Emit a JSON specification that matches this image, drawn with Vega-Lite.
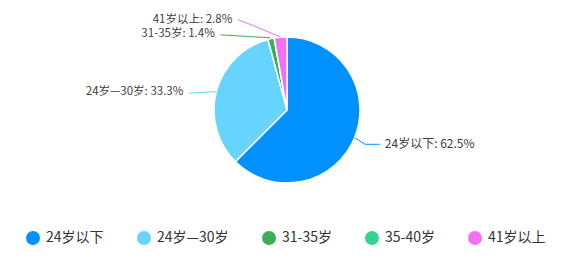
{
  "$schema": "https://vega.github.io/schema/vega-lite/v6.json",
  "width": 564,
  "height": 257,
  "padding": 0,
  "autosize": {"type": "none"},
  "background": "#ffffff",
  "config": {
    "view": {"stroke": null},
    "font": "Noto Sans CJK SC"
  },
  "datasets": {
    "slices": [
      {"idx": 1, "group": "24岁以下", "pct": 62.5},
      {"idx": 2, "group": "24岁—30岁", "pct": 33.3},
      {"idx": 3, "group": "31-35岁", "pct": 1.4},
      {"idx": 4, "group": "35-40岁", "pct": 0},
      {"idx": 5, "group": "41岁以上", "pct": 2.8}
    ],
    "leaders": [
      {"group": "24岁以下", "seq": 1, "lx": 0.93, "ly": -0.38},
      {"group": "24岁以下", "seq": 2, "lx": 1.07, "ly": -0.47},
      {"group": "24岁以下", "seq": 3, "lx": 1.27, "ly": -0.47},
      {"group": "24岁—30岁", "seq": 1, "lx": -0.97, "ly": 0.25},
      {"group": "24岁—30岁", "seq": 2, "lx": -1.01, "ly": 0.25},
      {"group": "24岁—30岁", "seq": 3, "lx": -1.34, "ly": 0.23},
      {"group": "31-35岁", "seq": 1, "lx": -0.23, "ly": 0.99},
      {"group": "31-35岁", "seq": 2, "lx": -0.5, "ly": 1.005},
      {"group": "31-35岁", "seq": 3, "lx": -0.91, "ly": 1.03},
      {"group": "41岁以上", "seq": 1, "lx": -0.09, "ly": 1.0},
      {"group": "41岁以上", "seq": 2, "lx": -0.47, "ly": 1.16},
      {"group": "41岁以上", "seq": 3, "lx": -0.67, "ly": 1.235}
    ],
    "labels": [
      {"group": "24岁以下", "side": "right", "tx": 1.34, "ty": -0.47, "label": "24岁以下: 62.5%"},
      {"group": "24岁—30岁", "side": "left", "tx": -1.42, "ty": 0.25, "label": "24岁—30岁: 33.3%"},
      {"group": "31-35岁", "side": "left", "tx": -0.99, "ty": 1.035, "label": "31-35岁: 1.4%"},
      {"group": "41岁以上", "side": "left", "tx": -0.75, "ty": 1.235, "label": "41岁以上: 2.8%"}
    ]
  },
  "layer": [
    {
      "data": {"name": "slices"},
      "mark": {"type": "arc", "outerRadius": 73, "stroke": "#ffffff", "strokeWidth": 1.5},
      "encoding": {
        "theta": {"field": "pct", "type": "quantitative", "stack": true},
        "order": {"field": "idx", "type": "quantitative"},
        "x": {"datum": 0, "type": "quantitative", "scale": {"domain": [-3.9315, 3.7945], "nice": false, "zero": false}, "axis": null},
        "y": {"datum": 0, "type": "quantitative", "scale": {"domain": [-2.0137, 1.5068], "nice": false, "zero": false}, "axis": null},
        "color": {
          "field": "group",
          "type": "nominal",
          "scale": {
            "domain": ["24岁以下", "24岁—30岁", "31-35岁", "35-40岁", "41岁以上"],
            "range": ["#0091ff", "#66d4ff", "#3aaf57", "#32d48f", "#f66ef5"]
          },
          "legend": {
            "title": null,
            "orient": "none",
            "direction": "horizontal",
            "legendX": 26,
            "legendY": 231,
            "symbolType": "circle",
            "symbolSize": 196,
            "symbolStrokeWidth": 0,
            "labelFontSize": 14,
            "labelColor": "#333333",
            "labelOffset": 6,
            "columnPadding": 33,
            "labelFont": "Noto Sans CJK SC"
          }
        }
      }
    },
    {
      "data": {"name": "leaders"},
      "mark": {"type": "line", "strokeWidth": 1},
      "encoding": {
        "x": {"field": "lx", "type": "quantitative"},
        "y": {"field": "ly", "type": "quantitative"},
        "order": {"field": "seq", "type": "quantitative"},
        "color": {"field": "group", "type": "nominal"}
      }
    },
    {
      "data": {"name": "labels"},
      "transform": [{"filter": "datum.side === 'right'"}],
      "mark": {"type": "text", "align": "left", "baseline": "middle", "fontSize": 12, "color": "#3d3d3d", "font": "Noto Sans CJK SC"},
      "encoding": {
        "x": {"field": "tx", "type": "quantitative"},
        "y": {"field": "ty", "type": "quantitative"},
        "text": {"field": "label", "type": "nominal"}
      }
    },
    {
      "data": {"name": "labels"},
      "transform": [{"filter": "datum.side === 'left'"}],
      "mark": {"type": "text", "align": "right", "baseline": "middle", "fontSize": 11.5, "color": "#3d3d3d", "font": "Noto Sans CJK SC"},
      "encoding": {
        "x": {"field": "tx", "type": "quantitative"},
        "y": {"field": "ty", "type": "quantitative"},
        "text": {"field": "label", "type": "nominal"}
      }
    }
  ]
}
